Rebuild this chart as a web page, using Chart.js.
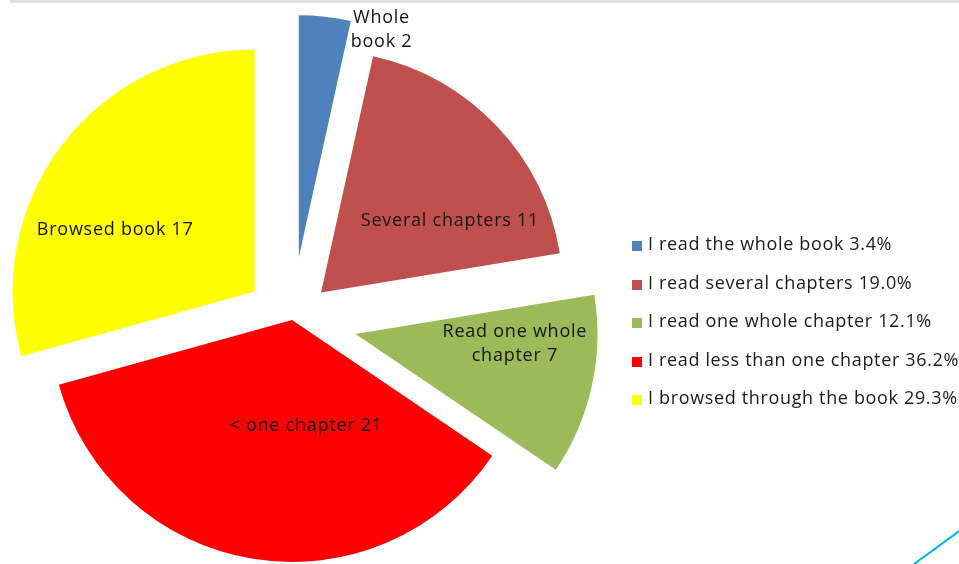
<!DOCTYPE html>
<html>
<head>
<meta charset="utf-8">
<script src="https://cdn.jsdelivr.net/npm/chart.js@4"></script>
<style>
  html, body { margin: 0; padding: 0; background: #fff; overflow: hidden; }
  #wrap { position: relative; width: 959px; height: 564px; }
  #topBar { position: absolute; left: 10px; top: 0; width: 949px; height: 3px; background: #e2e2e2; }
  #corner { position: absolute; left: 914px; top: 563px; width: 80px; height: 2px; background: #00b0f0;
            transform-origin: 0 50%; transform: rotate(-36deg); }
  #legend { position: absolute; left: 632px; top: 224px; font-family: "Open Sans", sans-serif;
            font-size: 18px; letter-spacing: 0.65px; color: #1a1a1a; }
  #legend .item { height: 38.5px; line-height: 38.5px; white-space: nowrap; }
  #legend .box { display: inline-block; width: 10px; height: 10px; margin-right: 6px; vertical-align: -1px; }
</style>
</head>
<body>
<div id="wrap">
  <canvas id="chart" width="959" height="564"></canvas>
  <div id="topBar"></div>
  <div id="corner"></div>
  <div id="legend"></div>
</div>
<script>
const categories = [
    'I read the whole book',
    'I read several chapters',
    'I read one whole chapter',
    'I read less than one chapter',
    'I browsed through the book'
];
const shortLabels = [
    ['Whole', 'book'],
    ['Several chapters'],
    ['Read one whole', 'chapter'],
    ['< one chapter'],
    ['Browsed book']
];
const counts = [2, 11, 7, 21, 17];
const colors = ['#4f81bd', '#c0504d', '#9bbb59', '#ff0000', '#ffff00'];

// how far each slice is pulled out, and where its label sits (fraction of angle, fraction of radius)
const explode = [63, 40, 65, 0, 47];
const labelPos = [
    { f: 1.61, r: 1.0 },
    { f: 0.71, r: 0.61 },
    { f: 0.30, r: 0.66 },
    { f: 0.37, r: 0.44 },
    { f: 0.374, r: 0.63 }
];

const explodePlugin = {
    id: 'explode',
    beforeDatasetDraw(chart, args) {
        const ctx = chart.ctx;
        args.meta.data.forEach((arc, i) => {
            const mid = (arc.startAngle + arc.endAngle) / 2;
            ctx.save();
            ctx.translate(Math.cos(mid) * explode[i], Math.sin(mid) * explode[i]);
            arc.draw(ctx);
            ctx.restore();
        });
        return false;
    }
};

const sliceLabels = {
    id: 'sliceLabels',
    afterDatasetsDraw(chart) {
        const ctx = chart.ctx;
        const meta = chart.getDatasetMeta(0);
        ctx.save();
        ctx.font = '18px "Open Sans"';
        ctx.letterSpacing = '0.75px';
        ctx.fillStyle = '#141414';
        ctx.textAlign = 'center';
        ctx.textBaseline = 'middle';
        meta.data.forEach((arc, i) => {
            const mid = (arc.startAngle + arc.endAngle) / 2;
            const cx = arc.x + Math.cos(mid) * explode[i];
            const cy = arc.y + Math.sin(mid) * explode[i];
            const a = arc.startAngle + labelPos[i].f * (arc.endAngle - arc.startAngle);
            const r = arc.outerRadius * labelPos[i].r;
            const x = cx + Math.cos(a) * r;
            const y = cy + Math.sin(a) * r;
            const lines = shortLabels[i].slice();
            lines[lines.length - 1] += ' ' + counts[i];
            lines.forEach((line, k) => {
                ctx.fillText(line, x, y + (k - (lines.length - 1) / 2) * 24);
            });
        });
        ctx.restore();
    }
};

new Chart(document.getElementById('chart').getContext('2d'), {
    type: 'pie',
    data: {
        labels: categories,
        datasets: [{
            data: counts,
            backgroundColor: colors,
            borderWidth: 0,
            radius: 242
        }]
    },
    options: {
        responsive: false,
        animation: false,
        events: [],
        layout: { padding: { left: 0, right: 375, top: 76, bottom: 0 } },
        plugins: {
            legend: { display: false },
            tooltip: { enabled: false }
        }
    },
    plugins: [explodePlugin, sliceLabels]
});

// legend
const total = counts.reduce((a, b) => a + b, 0);
const legendEl = document.getElementById('legend');
categories.forEach((name, i) => {
    const row = document.createElement('div');
    row.className = 'item';
    const box = document.createElement('span');
    box.className = 'box';
    box.style.background = colors[i];
    row.appendChild(box);
    row.appendChild(document.createTextNode(name + ' ' + (counts[i] / total * 100).toFixed(1) + '%'));
    legendEl.appendChild(row);
});
</script>
</body>
</html>
